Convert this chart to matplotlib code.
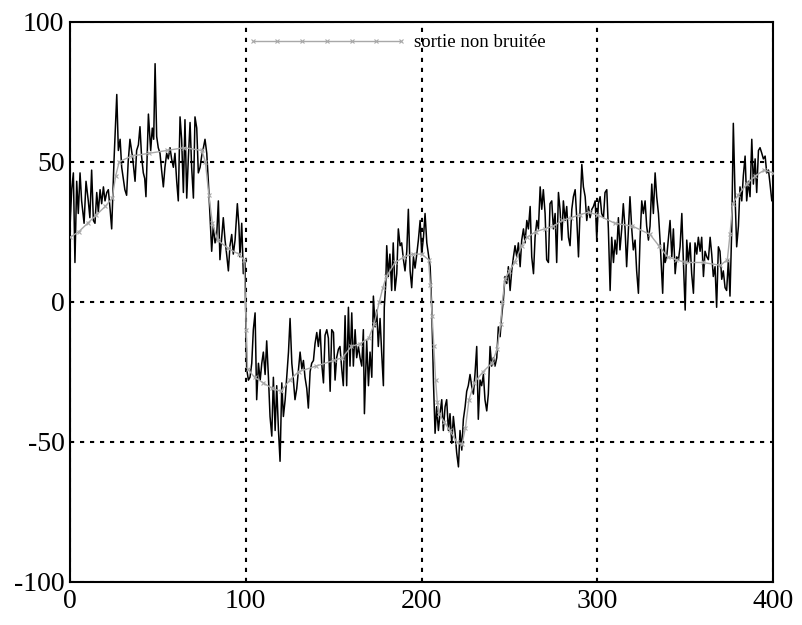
import matplotlib
matplotlib.use('Agg')
import matplotlib.pyplot as plt

# ---------------- data ----------------
noisy_t = [0, 0.95, 1.9, 2.8, 3.8, 4.7, 5.7, 6.6, 8.0, 9.1, 10.4, 11.3, 12.3, 13.3, 14.2, 15.2, 16.1, 17.1, 18.0, 19.0,
           19.9, 20.9, 21.8, 22.8, 23.7, 25.0, 26.6, 27.5, 28.5, 29.4, 30.3, 31.2, 32.2, 33.1, 34.1, 35.0, 35.7, 37.0,
           37.9, 38.9, 39.8, 40.7, 41.7, 42.5, 43.2, 44.6, 45.9, 46.8, 47.6,
           48.4, 49.3, 50.2, 51.2, 52.1, 53.1, 54.0, 55.0, 55.9, 56.9, 57.8, 58.8, 59.7, 60.7, 61.6, 62.6, 63.5, 64.5,
           65.4, 66.4, 67.3, 68.3, 69.2, 70.2, 71.1, 72.1, 73.0, 74.0, 74.9, 75.9, 76.8, 77.8, 78.7, 79.6, 80.6, 81.5,
           82.5, 83.4, 84.4, 85.3, 86.3, 87.2, 88.2, 89.1, 90.1, 91.0, 92.0, 92.9, 93.9, 95.2, 96.1, 96.7, 97.7, 98.6, 99.5,
           100.5, 101.5, 102.4, 103.4, 104.3, 105.3, 106.2, 107.2, 108.2, 109.1, 110.0, 111.0, 111.9, 112.9, 113.8, 114.8,
           115.7, 116.7, 117.6, 118.6, 119.5, 120.5, 121.4, 122.4, 123.3, 124.3, 125.2, 126.2, 127.1, 128.0, 129.0, 129.9,
           130.9, 131.9, 132.8, 133.7, 134.7, 135.6, 136.6, 137.5, 138.5, 139.4, 140.4, 141.3, 142.3, 143.2, 144.2, 145.1,
           146.1, 147.0, 148.0, 148.9, 149.9,
           150.8, 151.7, 152.7, 153.6, 154.6, 155.5, 156.5, 157.4, 158.4, 159.3, 160.3, 161.2, 162.2, 163.1, 164.1, 165.0,
           166.0, 166.9, 167.5, 168.8, 169.8, 170.7, 171.7, 172.6, 173.6, 174.5, 175.4, 176.4, 177.3, 178.3, 178.8, 179.6,
           180.2, 181.1, 182.0, 183.0, 183.9, 184.9, 185.9, 186.8, 187.8, 188.7, 189.7, 190.6, 191.6, 192.5, 193.5, 194.4,
           195.4, 196.3, 197.3, 198.2,
           199.2, 200.1, 201.1, 202.0, 203.0, 203.9, 204.9, 205.8, 206.8, 207.7, 208.6, 209.6, 210.5, 211.5, 212.4, 213.4,
           214.3, 215.3, 216.2, 217.2, 218.1, 219.1, 220.0, 221.0, 221.9, 222.9, 223.8, 224.8, 225.7, 226.6, 227.6, 228.5,
           229.5, 230.4, 231.4, 232.3, 233.3, 234.2, 235.2, 236.1, 237.1, 238.0, 239.0, 239.9, 240.9, 241.8, 242.8, 243.7,
           244.7, 245.6, 246.6,
           247.5, 248.5, 249.4, 250.4, 251.3, 252.3, 253.2, 254.2, 255.1, 256.1, 257.0, 258.0, 258.9, 259.9, 260.8, 261.8,
           262.7, 263.7, 264.6, 265.6, 266.5, 267.5, 268.4, 269.3, 270.3, 271.2, 272.2, 273.1, 274.1, 275.0, 276.0, 276.9,
           277.9, 278.8, 279.8, 280.7, 281.7, 282.6, 283.6, 284.5, 285.5, 286.4, 287.4, 288.3, 289.3, 290.2, 291.2, 292.1,
           293.1, 294.0, 295.0, 295.9, 296.9, 297.8, 298.8,
           299.7, 300.6, 301.6, 302.5, 303.5, 304.4, 305.4, 306.3, 307.3, 308.2, 309.2, 310.1, 311.0, 312.0, 312.9, 313.9,
           314.8, 315.8, 316.7, 317.7, 318.6, 319.6, 320.5, 321.5, 322.4, 323.4, 324.3, 325.3, 326.2, 327.2, 328.1, 329.1,
           330.0, 331.0, 331.9, 332.9, 333.8, 334.8, 335.7, 336.7, 337.2, 338.0, 338.6, 339.5, 340.5, 341.4, 342.4, 343.3,
           344.3, 345.2, 346.2, 347.1, 348.1, 349.0, 350.0,
           350.9, 351.8, 352.8, 353.7, 354.7, 355.6, 356.6, 357.5, 358.5, 359.4, 360.4, 361.3, 362.3, 363.2, 364.2, 365.1,
           366.0, 367.0, 367.9, 368.9, 369.8, 370.8, 371.7, 372.7, 373.6, 374.6, 375.5, 376.5, 377.4, 378.4, 379.3, 380.3,
           381.2, 382.2, 383.1, 384.1, 385.0, 386.0, 386.9, 387.9, 388.8, 389.8, 390.7, 391.7, 392.6, 393.6, 394.5, 395.5,
           396.4, 397.4, 398.3, 399.3, 400]

noisy_v = [27, 40, 46, 14, 43, 31.5, 46, 36, 28, 43, 36, 30, 47, 29, 28, 39, 32, 40, 35, 41,
           36, 39, 40, 33, 26, 50, 74, 54, 58, 48, 44, 40, 38, 50, 58, 54, 51, 43,
           54, 56, 62.5, 52, 46, 44, 37.5, 67, 54, 62, 58,
           85, 59, 55, 53, 47, 41, 48, 53, 51, 55, 51, 48, 53, 43, 36, 66, 58, 39,
           65, 37, 51, 64, 48, 37, 66, 62, 46, 48, 52, 55, 58, 53, 43, 31, 18, 27,
           21, 23, 36, 15, 23, 30, 22, 17, 11, 20, 24, 17, 22, 35, 27, 16, 28, 10, 14,
           -24, -28, -27, -22, -10, -4, -35, -22, -28, -22, -18, -26, -14, -27, -41, -48,
           -27, -46, -30, -46, -57, -29, -41, -35, -27, -18, -6, -22, -28, -35, -31, -25,
           -18, -24, -21, -27, -31, -38, -25, -22, -21, -15, -11, -16, -10, -22, -29, -12,
           -10, -13, -32, -10, -11,
           -28, -20, -17, -16, -24, -30, -5, -30, -2, -23, -4, -23, -10, -20, -16, -20,
           -23, -10, -40, -14, -30, -18, -27, 2, -9, -3, -16, -6, -18, -30, -2, 6,
           20, 9, 17, 4, 21, 4, 10, 26, 20, 21, 15, 11, 18, 33, 11, 5,
           16, 12, 17, 22,
           29, 17, 23, 31.5, 21, 17, 12.5, -2, -29, -47, -37.5, -46, -40, -35, -46, -37.5,
           -35, -46, -40, -50.6, -41, -47, -54, -59, -46, -53, -42, -37.5, -32, -30, -26, -30,
           -33, -26, -16, -42, -28, -30, -26, -35, -39, -33, -16, -23, -20, -23, -20, -9,
           -12.5, -5, 1,
           9, 6.5, 12.5, 4, 11, 16, 20, 16, 21, 12.5, 22, 26, 21, 29, 26, 34,
           16, 10, 23, 29, 26, 41, 33, 40, 31.5, 15, 14, 35, 36, 26, 31.5, 14,
           39, 33, 22, 36, 29, 34, 23, 20, 33, 37.5, 40, 30, 16, 33, 49, 41,
           37.5, 29, 34, 30, 33, 34, 36,
           22, 35, 37.5, 31.5, 30, 39, 40, 26, 4, 23, 14, 22, 17, 30, 18.5, 26,
           35, 26, 12.5, 26, 37.5, 26, 18.5, 22, 11, 3, 22, 36, 31.5, 36, 27, 22,
           27, 42, 31.5, 46, 37.5, 31.5, 22, 9, 3, 21, 14, 16, 23, 29, 16, 26,
           10, 16, 15, 19.6, 31.5, 14, -3,
           22, 14, 21, 10, 3, 21, 17, 23, 18, 23, 9, 18, 16, 15, 23, 17,
           9, 12.5, -2, 19.6, 18, 8, 11, 5, 4, 15, 2, 26, 63.7, 37.5, 19.6, 27,
           41, 36, 45, 52, 36, 43, 37.5, 58, 42, 51, 39, 54, 55, 53, 51, 52,
           46, 47, 42, 36, 38]

smooth_t = [0, 5, 10, 15, 20, 24, 26, 28, 35, 45, 55, 65, 75, 77, 79, 81, 84, 90, 96, 99,
            100.3, 101, 105, 110, 115, 120, 125, 130, 140, 150, 155, 160, 165, 170, 173, 176, 178, 180,
            185, 190, 195, 200, 204, 205, 206, 207, 208, 209, 210, 213, 216, 220, 223, 225, 227, 230,
            235, 240, 243, 245, 246, 247.5, 250, 253, 257, 260, 265, 270, 275, 280, 285, 290, 295, 300,
            310, 320, 330, 335, 340, 345, 350, 360, 370, 374, 375.5, 377, 380, 385, 390, 395, 400]
smooth_v = [23, 25, 28, 31, 34, 37, 45, 50, 52, 53, 54, 55, 54, 50, 38, 28, 22, 19, 17, 15,
            -10, -24, -27, -29, -31, -32, -28, -25, -23, -21, -20, -16, -15, -13, -8, 0, 5, 9,
            14, 16, 17, 17, 15, 6, -5, -16, -28, -36, -40, -43, -46, -50, -51, -45, -35, -29,
            -25, -22, -17, -8, 0, 8, 11, 14, 20, 23, 25, 26, 27, 29, 30, 31, 32, 31,
            28, 27, 24, 20, 16, 15, 14, 14, 13, 15, 24, 35, 38, 42, 45, 47, 46]

x_ticks = [0, 100, 200, 300, 400]
x_labels = ['0', '100', '200', '300', '400']
y_ticks = [-100, -50, 0, 50, 100]
y_labels = ['-100', '-50', '0', '50', '100']
legend_label = 'sortie non bruitée'

# ---------------- figure ----------------
serif = ['Liberation Serif', 'DejaVu Serif']
fig = plt.figure(figsize=(8.03, 6.25), dpi=100)
ax = fig.add_axes([0.0872, 0.0693, 0.8755, 0.8960])

ax.plot(noisy_t, noisy_v, color='black', lw=1.1, zorder=3)
ax.plot(smooth_t, smooth_v, color='#a8a8a8', lw=1.0, marker='x', ms=3, mew=0.8,
        zorder=4, label=legend_label)

ax.set_xlim(0, 400)
ax.set_ylim(-100, 100)
ax.set_xticks(x_ticks)
ax.set_xticklabels(x_labels, fontfamily=serif, fontsize=20)
ax.set_yticks(y_ticks)
ax.set_yticklabels(y_labels, fontfamily=serif, fontsize=20)
ax.tick_params(axis='both', length=0)
ax.tick_params(axis='x', pad=5)
ax.tick_params(axis='y', pad=4)

ax.grid(True, color='black', linestyle=(0, (2, 2.8)), linewidth=1.5, zorder=1)
for s in ax.spines.values():
    s.set_linewidth(1.5)

ax.legend(loc='upper left', bbox_to_anchor=(0.228, 1.008), frameon=False,
          handlelength=8.5, numpoints=7, handletextpad=0.4,
          prop={'family': serif, 'size': 13.5})

fig.savefig('out.png', dpi=100)
